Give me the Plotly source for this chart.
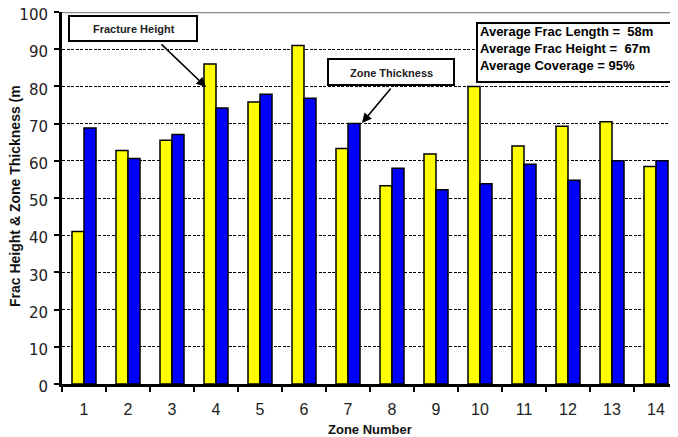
import plotly.graph_objects as go

# ---- data ----
zones = [str(i) for i in range(1, 15)]
frac_height = [41.0, 62.8, 65.5, 86.0, 75.8, 91.0, 63.3, 53.3, 61.8, 80.0, 64.0, 69.3, 70.5, 58.5]
zone_thickness = [68.8, 60.6, 67.1, 74.2, 77.9, 76.8, 70.0, 58.0, 52.2, 53.8, 59.1, 54.8, 60.0, 60.0]
y_ticks = [0, 10, 20, 30, 40, 50, 60, 70, 80, 90, 100]
stats_lines = ["Average Frac Length =  58m", "Average Frac Height =  67m", "Average Coverage = 95%"]

# page body has an 8px margin; build the figure so it lands on the reference pixels
OFF = 8
W, H = 678 - OFF, 437 - OFF
ML, MR, MT, MB = 62 - OFF, 0, 12 - OFF, 53
PW = W - ML - MR
PH = H - MT - MB


def px(x):
    # reference-page pixel x -> paper
    return (x - OFF - ML) / PW


def py(y):
    # reference-page pixel y -> paper
    return (H - MB - (y - OFF)) / PH


fig = go.Figure()
fig.add_trace(go.Bar(x=zones, y=frac_height, name="Fracture Height",
                     marker=dict(color="#FFFF00", line=dict(color="black", width=1.5))))
fig.add_trace(go.Bar(x=zones, y=zone_thickness, name="Zone Thickness",
                     marker=dict(color="#0000FF", line=dict(color="black", width=1.5))))

shapes = [
    dict(type="line", xref="paper", yref="y", x0=0, x1=1, y0=100, y1=100,
         line=dict(color="#8c8c8c", width=2.5)),
    dict(type="rect", xref="paper", yref="paper", x0=px(69), x1=px(197), y0=py(41), y1=py(16),
         fillcolor="white", line=dict(color="black", width=2)),
    dict(type="rect", xref="paper", yref="paper", x0=px(328), x1=px(454), y0=py(85), y1=py(59),
         fillcolor="white", line=dict(color="black", width=2)),
    dict(type="rect", xref="paper", yref="paper", x0=px(477), x1=px(674), y0=py(82), y1=py(23),
         fillcolor="white", line=dict(color="black", width=2)),
]

annotations = [
    dict(text="<b>Fracture Height</b>", xref="paper", yref="paper", x=px(134), y=py(29),
         showarrow=False, font=dict(size=11, color="#222"), xanchor="center", yanchor="middle"),
    dict(text="<b>Zone Thickness</b>", xref="paper", yref="paper", x=px(391), y=py(73),
         showarrow=False, font=dict(size=11, color="#222"), xanchor="center", yanchor="middle"),
    dict(text="<br>".join("<b>" + s + "</b>" for s in stats_lines), xref="paper", yref="paper",
         x=px(479), y=py(48.5), showarrow=False, align="left", xanchor="left", yanchor="middle",
         borderpad=0, font=dict(size=13, color="black")),
    dict(text="", xref="paper", yref="paper", x=px(206), y=py(87), ax=-46, ay=-44,
         showarrow=True, arrowhead=2, arrowsize=1.2, arrowwidth=1.6, arrowcolor="black", standoff=0),
    dict(text="", xref="paper", yref="paper", x=px(362), y=py(123), ax=30, ay=-36,
         showarrow=True, arrowhead=2, arrowsize=1.2, arrowwidth=1.6, arrowcolor="black", standoff=0),
    dict(text="<b>Zone Number</b>", xref="paper", yref="paper", x=px(370), y=py(429.5),
         showarrow=False, font=dict(size=13, color="#111"), xanchor="center", yanchor="middle"),
    dict(text="<b>Frac Height & Zone Thickness (m</b>", xref="paper", yref="paper",
         x=px(15), y=py(196), textangle=-90, showarrow=False,
         font=dict(size=14, color="#111"), xanchor="center", yanchor="middle"),
]

fig.update_layout(
    width=W, height=H,
    margin=dict(l=ML, r=MR, t=MT, b=MB, pad=0, autoexpand=False),
    paper_bgcolor="white", plot_bgcolor="white",
    font=dict(family="Liberation Sans, Arial, sans-serif", color="#222"),
    barmode="group", bargap=0.4545, bargroupgap=0,
    showlegend=False,
    shapes=shapes, annotations=annotations,
    xaxis=dict(type="category", tickson="boundaries", ticks="outside", ticklen=5,
               tickwidth=2, tickcolor="black", showline=True, linecolor="black", linewidth=3,
               showgrid=False, tickfont=dict(size=16, color="#222"), ticklabelstandoff=9,
               automargin=False),
    yaxis=dict(range=[0, 100], tickvals=y_ticks, ticks="outside", ticklen=5, tickwidth=1.5,
               tickcolor="black", showline=True, linecolor="black", linewidth=3,
               showgrid=True, gridcolor="black", gridwidth=1, griddash="3px,1.5px",
               zeroline=False, ticklabeloverflow="allow", ticklabelshift=3,
               tickfont=dict(family="DejaVu Sans, sans-serif", size=15, color="#222"),
               ticklabelstandoff=3, automargin=False),
)

fig.write_html("out.html")
